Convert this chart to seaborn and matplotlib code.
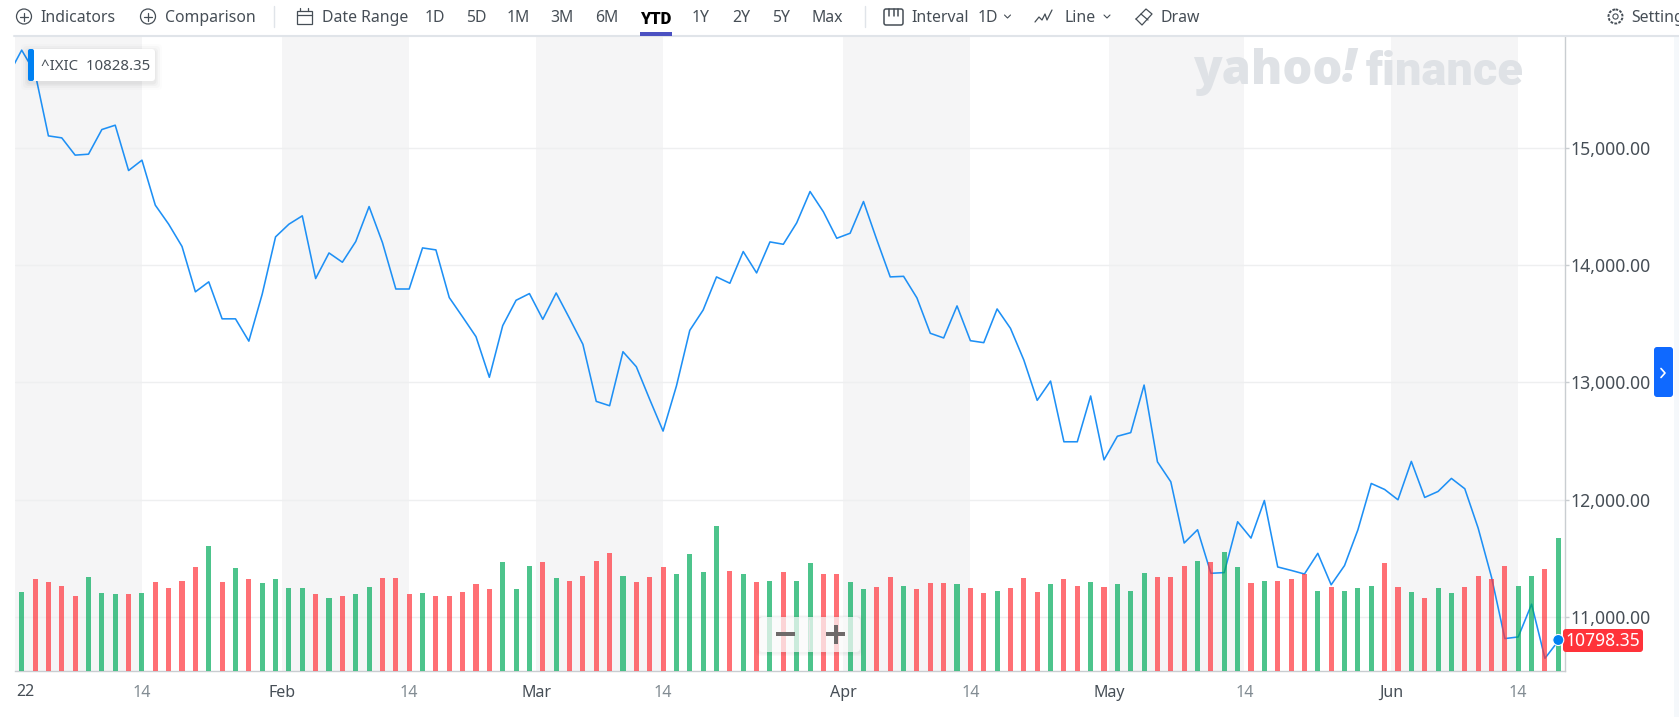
import numpy as np
import pandas as pd
import seaborn as sns
import matplotlib
matplotlib.use("Agg")
import matplotlib.pyplot as plt
from matplotlib.patches import FancyBboxPatch, Rectangle, Circle

# closing values, first one is the last day of 2021 (clipped at the left edge)
close = [15616, 15829, 15636, 15099, 15082, 14935, 14943, 15153, 15190, 14804, 14892, 14509,
         14347, 14157, 13771, 13856, 13541, 13541, 13351, 13751, 14239, 14347, 14418, 13884,
         14102, 14023, 14199, 14497, 14190, 13795, 13795, 14145, 14128, 13722, 13557, 13389,
         13043, 13483, 13699, 13756, 13537, 13761, 13545, 13324, 12838, 12801, 13261, 13133,
         12855, 12585, 12969, 13443, 13616, 13898, 13844, 14114, 13932, 14196, 14176, 14358,
         14625, 14452, 14227, 14270, 14540, 14213, 13898, 13903, 13719, 13418, 13378, 13651,
         13355, 13338, 13625, 13460, 13190, 12847, 13011, 12494, 12494, 12884, 12340, 12541,
         12572, 12977, 12323, 12153, 11632, 11745, 11374, 11380, 11813, 11674, 11994, 11428,
         11399, 11368, 11544, 11276, 11440, 11744, 12139, 12088, 12000, 12327, 12020, 12071,
         12182, 12094, 11759, 11341, 10818, 10832, 11111, 10650, 10798.35]

# volume has no scale in the picture, so these are relative heights
volume = [237, 275, 267, 256, 226, 282, 233, 230, 230, 233, 267, 248, 271, 312, 376, 267, 308,
          275, 263, 275, 248, 248, 230, 218, 226, 230, 252, 278, 278, 230, 233, 226, 226, 237,
          260, 245, 327, 245, 316, 327, 278,
          271, 286, 331, 353, 286, 267, 282, 312, 290, 350, 297, 436, 301, 290, 267, 271, 297,
          271, 323, 290, 290, 267, 245, 252, 282, 256, 245, 263, 263, 260, 248, 233, 241, 248,
          278, 237, 260, 275, 256, 267, 252, 260,
          241, 293, 282, 282, 316, 331, 327, 357, 312, 263, 271, 271, 275, 290, 241, 252, 241,
          248, 256, 323, 252, 237, 218, 248, 233, 252, 286, 275, 316, 256, 286, 305, 398]
direction = list("GRRRRGGGRGRRRRGRGRGGGGRGRGGRRRGRRRRRGGGRG"
                 "RRRRGRRRGGGGRGRGRGGRRGGRRGRRRGRRGRRRGRRGRG"
                 "GGRRRGRGGRGRRRGRGGGRRGRGGRRRRGGRG")

tick_pos = [9, 19.5, 29, 38.5, 48, 61.5, 71, 81.4, 91.5, 102.5, 112]
tick_labels = ["14", "Feb", "14", "Mar", "14", "Apr", "14", "May", "14", "Jun", "14"]
price_ticks = [11000, 12000, 13000, 14000, 15000]
band_start = [-0.5, 19.5, 38.5, 61.5, 81.4, 102.5]
band_end = [9, 29, 48, 71, 91.5, 112]

DARK = "#464e56"
GREY = "#828c93"
AXIS = "#c9cdd1"
W, H = 1679, 717


def pt(px):
    return px * 0.72


sns.set_theme(style="white")
plt.rcParams["font.family"] = ["Noto Sans", "DejaVu Sans"]

fig = plt.figure(figsize=(W / 100, H / 100), dpi=100, facecolor="white")
ax = fig.add_axes([15 / W, 1 - 671 / H, 1550 / W, 634 / H])
ax_vol = ax.twinx()

days = np.arange(-1, len(close) - 1)
sns.lineplot(x=days, y=close, color="#1e90f5", linewidth=1.15, errorbar=None, ax=ax)

df = pd.DataFrame({"day": np.arange(len(volume)), "volume": volume, "direction": direction})
sns.barplot(data=df, x="day", y="volume", hue="direction", native_scale=True, dodge=False,
            palette={"G": "#02AB5C", "R": "#FF333B"}, hue_order=["G", "R"], saturation=1,
            alpha=0.7, width=0.38, legend=False, linewidth=0, ax=ax_vol)

ax.set_xlim(-0.5, 115.5)
ax_vol.set_xlim(-0.5, 115.5)
ax.set_ylim(10542, 15941)
ax_vol.set_ylim(0, 1902)
ax_vol.set_yticks([])
ax_vol.set_ylabel("")
ax_vol.set_xlabel("")
ax_vol.patch.set_visible(False)
ax_vol.grid(False)
for s in ax_vol.spines.values():
    s.set_visible(False)
ax_vol.tick_params(bottom=False, labelbottom=False)

# grey bands, first half of every other stretch between ticks
for a, b in zip(band_start, band_end):
    ax.axvspan(a, b, color="#f5f5f6", lw=0, zorder=0)

ax.set_yticks(price_ticks)
ax.set_yticklabels([f"{v:,.2f}" for v in price_ticks])
ax.yaxis.tick_right()
ax.grid(axis="y", color="#eeeff0", lw=1, zorder=0.5)
ax.grid(axis="x", visible=False)
ax.set_axisbelow(True)
ax.tick_params(axis="y", length=3, width=1, color=AXIS, labelcolor=DARK, labelsize=pt(17.6), pad=1)
ax.set_xticks(tick_pos)
ax.set_xticklabels(tick_labels)
ax.tick_params(axis="x", length=5, width=1, color="#dfe2e5", labelcolor=GREY, labelsize=pt(16), pad=4.8)
for lab, txt in zip(ax.get_xticklabels(), tick_labels):
    if txt != "14":
        lab.set_color(DARK)
for name, s in ax.spines.items():
    s.set_visible(name in ("right", "bottom"))
    s.set_color(AXIS)
    s.set_linewidth(1)

# everything that belongs to the page around the chart
top = fig.add_axes([0, 0, 1, 1])
top.set_xlim(0, W)
top.set_ylim(H, 0)
top.axis("off")
top.patch.set_visible(False)


def label(x, txt, ha="left", weight="normal", color=DARK, size=15.8, y=18.5, family=None):
    top.text(x, y, txt, ha=ha, va="center", fontsize=pt(size), color=color, fontweight=weight,
             fontfamily=family)


def box(x0, y0, x1, y1, r=3, **kw):
    top.add_patch(FancyBboxPatch((x0 + r, y0 + r), x1 - x0 - 2 * r, y1 - y0 - 2 * r,
                                 boxstyle=f"round,pad={r},rounding_size={r}", **kw))


def plus_circle(x):
    top.add_patch(Circle((x, 16.5), 7.5, fc="none", ec=DARK, lw=0.9))
    top.plot([x - 4, x + 4], [16.5, 16.5], color=DARK, lw=0.9)
    top.plot([x, x], [12.5, 20.5], color=DARK, lw=0.9)


def chevron(x):
    top.plot([x - 3, x, x + 3], [15, 18, 15], color=DARK, lw=0.8)


plus_circle(24)
label(40, "Indicators")
plus_circle(148)
label(165, "Comparison")
top.plot([274, 274], [6, 27], color="#e0e4e9", lw=1)
top.plot([864.5, 864.5], [6, 27], color="#e0e4e9", lw=1)

# calendar
top.add_patch(Rectangle((296.5, 10.5), 15, 13, fc="none", ec=DARK, lw=0.9))
top.plot([296.5, 311.5], [15, 15], color=DARK, lw=0.9)
top.plot([300, 300], [8, 11], color=DARK, lw=0.9)
top.plot([308, 308], [8, 11], color=DARK, lw=0.9)
label(322, "Date Range")

for x, txt in zip([435, 476, 518.5, 562, 607], ["1D", "5D", "1M", "3M", "6M"]):
    label(x, txt, ha="center")
label(656, "YTD", ha="center", weight="black", color="#000000", size=16.5, family="Roboto")
top.add_patch(Rectangle((640, 32), 32, 4, fc="#4b51c2", lw=0, zorder=3))
for x, txt in zip([700.5, 741, 781, 827], ["1Y", "2Y", "5Y", "Max"]):
    label(x, txt, ha="center")

# interval icon
box(884, 9, 903, 25, r=2, fc="none", ec=DARK, lw=1.1)
for x in [889, 893.5, 898]:
    top.plot([x, x], [9, 16], color=DARK, lw=1.1)
label(911, "Interval")
label(978, "1D")
chevron(1007.5)

# line icon
top.plot([1035, 1039, 1042, 1045, 1047, 1052], [22, 17, 20, 14, 20, 10], color=DARK, lw=0.9)
label(1065, "Line")
chevron(1107)

# pencil icon
top.plot([1136, 1146, 1152, 1142, 1136], [19, 9, 14, 25, 19], color=DARK, lw=0.9)
top.plot([1141, 1148], [14, 20], color=DARK, lw=0.9)
label(1161, "Draw")

# gear
top.add_patch(Circle((1615.5, 16.5), 7, fc="none", ec=DARK, lw=1.4, ls=(0, (1.4, 0.7))))
top.add_patch(Circle((1615.5, 16.5), 2.6, fc="none", ec=DARK, lw=0.8))
label(1631.5, "Settings")

top.plot([14, W], [36, 36], color="#e0e4e9", lw=1.5)
top.add_patch(Rectangle((1674, 37), 5, H - 37, fc="#f5f8fb", lw=0))

# watermark
wm = dict(va="center", color="#dfe2e6", fontweight="black")
top.text(1193, 72, "yahoo", ha="left", fontfamily="Open Sans", fontsize=pt(47), **wm)
top.text(1349, 70, "!", ha="center", fontfamily="Open Sans", fontstyle="italic", fontsize=pt(47), **wm)
top.text(1524, 72, "finance", ha="right", fontfamily="Roboto", fontsize=pt(47), **wm)

# ticker tooltip
for grow, a in [(7, 0.012), (5, 0.018), (3, 0.025), (1.5, 0.03)]:
    box(28 - grow, 49 - grow + 2, 155 + grow, 81 + grow + 2, r=4, fc="black", alpha=a, lw=0)
box(28, 49, 155, 81, r=3, fc="white", lw=0)
box(28, 49, 34, 81, r=2, fc="#0081f2", lw=0)
top.text(41, 66.5, "^IXIC  10828.35", va="center", fontsize=pt(15), color=DARK)

# zoom control
for grow, a in [(3, 0.02), (1.5, 0.03)]:
    box(759 - grow, 617 - grow + 1, 860 + grow, 652 + grow + 1, r=4, fc="black", alpha=a, lw=0)
box(759, 617, 860, 652, r=4, fc="white", alpha=0.72, lw=0)
top.plot([809, 809], [620, 649], color="#e6e6e6", lw=0.8)
top.add_patch(Rectangle((775.5, 632), 19, 4, fc="#6e6a6a", lw=0))
top.add_patch(Rectangle((826, 632), 19, 4, fc="#6e6a6a", lw=0))
top.add_patch(Rectangle((833.5, 625), 4, 19, fc="#6e6a6a", lw=0))

# last price marker
box(1563, 629, 1643, 652, r=3, fc="#ff333a", lw=0)
top.text(1603, 641.5, "10798.35", ha="center", va="center", color="white", fontsize=pt(17.5))
top.add_patch(Circle((1558.3, 640), 5.5, fc="#0081f2", ec="white", lw=0.8, zorder=5))

# side panel tab
box(1654, 347, 1673, 397, r=3, fc="#0f69ff", lw=0)
top.plot([1661, 1665, 1661], [368.5, 373, 377.5], color="white", lw=1.2)

# first tick label sits at the left edge
top.text(25.5, 691.5, "22", ha="center", va="center", fontsize=pt(16), color=DARK)

fig.savefig("out.png", dpi=100)
